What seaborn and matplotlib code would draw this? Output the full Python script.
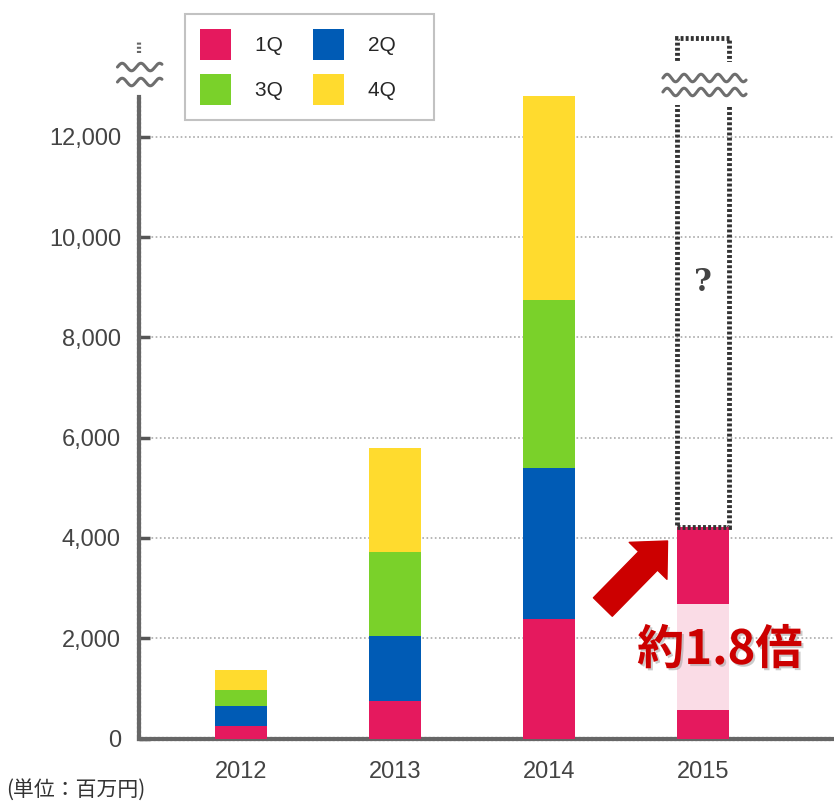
import numpy as np
import pandas as pd
import matplotlib.pyplot as plt
import matplotlib.patheffects as pe
from matplotlib.patches import Patch
import seaborn as sns

# values (unit: million yen)
years = ["2012", "2013", "2014", "2015"]
q1 = [240, 754, 2384, 4225]
q2 = [400, 1291, 3006, 0]
q3 = [320, 1669, 3357, 0]
q4 = [398, 2075, 4070, 0]
q1_2015_parts = [569, 2114, 1542]   # dark / light / dark segments of the 2015 bar
yticks = [0, 2000, 4000, 6000, 8000, 10000, 12000]
quarter_labels = ["1Q", "2Q", "3Q", "4Q"]

PINK = "#e5195e"
LIGHT_PINK = "#fadce6"
BLUE = "#005bb5"
GREEN = "#7ad12a"
YELLOW = "#ffdb2e"
RED = "#cc0000"
DOT = (0, (0.5, 0.5))

sns.set_theme(style="white")
plt.rcParams["font.family"] = ["Liberation Sans", "Noto Sans CJK JP", "DejaVu Sans"]

fig = plt.figure(figsize=(8.34, 8.01), dpi=100)
ax = fig.add_axes([139 / 834, 1 - 738.5 / 801, 1 - 139 / 834, (738.5 - 38) / 801])

df = pd.DataFrame({"year": years, "q1": q1, "q2": q2, "q3": q3, "q4": q4})
df["c1"] = df["q1"]
df["c2"] = df["c1"] + df["q2"]
df["c3"] = df["c2"] + df["q3"]
df["c4"] = df["c3"] + df["q4"]

# stacked bars: draw cumulative totals, tallest first
for col, color in [("c4", YELLOW), ("c3", GREEN), ("c2", BLUE), ("c1", PINK)]:
    sns.barplot(data=df, x="year", y=col, order=years, color=color,
                saturation=1, width=0.34, linewidth=0, ax=ax, zorder=3)

# 2015 1Q split into segments
sns.barplot(x=["2015"], y=[q1_2015_parts[0] + q1_2015_parts[1]], order=years,
            color=LIGHT_PINK, saturation=1, width=0.34, linewidth=0, ax=ax, zorder=3)
sns.barplot(x=["2015"], y=[q1_2015_parts[0]], order=years,
            color=PINK, saturation=1, width=0.34, linewidth=0, ax=ax, zorder=3)

top = 13974
ax.set_ylim(0, top)
ax.set_xlim(-0.662, 3.851)
ax.set_xlabel("")
ax.set_ylabel("")

# dashed "?" box above 2015
ax.bar(3, top - sum(q1_2015_parts), bottom=sum(q1_2015_parts), width=0.34,
       fill=False, edgecolor="#333333", linewidth=3.5, linestyle=(0, (0.6, 0.45)),
       clip_on=False, zorder=4)
ax.text(3, 9106, "?", ha="center", va="center", fontsize=22, fontweight="bold",
        color="#444444", family="DejaVu Serif", zorder=5)


def wave(x0, x1, yc, wl, amp, n=300):
    x = np.linspace(x0, x1, n)
    return x, yc + amp * np.sin(2 * np.pi * (x - x0) / wl)


# break in the 2015 box
ax.bar(3, 12637 - 13495, bottom=13495, width=0.5, color="white", linewidth=0,
       clip_on=False, zorder=5)
for yc in [13176, 12897]:
    wx, wy = wave(2.74, 3.28, yc, 0.11, 75)
    ax.plot(wx, wy, color="#6e6e6e", lw=2.2, clip_on=False, zorder=6)

# spines
for side in ["top", "right"]:
    ax.spines[side].set_visible(False)
for side in ["left", "bottom"]:
    ax.spines[side].set_color("#666666")
    ax.spines[side].set_linewidth(3)
    ax.spines[side].set_linestyle(DOT)
ax.spines["left"].set_bounds(0, 12797)

# y-axis break
ytrans = ax.get_yaxis_transform()
ax.plot([0, 0], [13675, 13895], transform=ytrans, color="#666666", lw=3,
        linestyle=DOT, clip_on=False)
for yc in [13395, 13096]:
    wx, wy = wave(-0.031, 0.033, yc, 0.027, 75)
    ax.plot(wx, wy, transform=ytrans, color="#6e6e6e", lw=2.2, clip_on=False)

ax.set_yticks(yticks)
ax.set_yticklabels([f"{v:,}" for v in yticks])
ax.yaxis.grid(True, color="#aaaaaa", linestyle=(0, (1, 1.5)), linewidth=1.2)
ax.set_axisbelow(True)
ax.tick_params(axis="y", direction="in", length=8, width=2.5, color="#555555",
               pad=13, labelsize=17, labelcolor="#444444", left=True)
ax.tick_params(axis="x", length=0, pad=16, labelsize=17, labelcolor="#444444")

# arrow and annotation
ax.annotate("", xy=(2.77, 3940), xytext=(2.35, 2623),
            arrowprops=dict(arrowstyle="simple,head_width=38,head_length=20,tail_width=19",
                            mutation_scale=1, color=RED, shrinkA=0, shrinkB=0),
            zorder=6)
ax.text(3.11, 1765, "約1.8倍", ha="center", va="center", fontsize=34,
        fontweight="bold", color=RED, family=["Noto Sans CJK JP", "DejaVu Sans"],
        zorder=7,
        path_effects=[pe.withSimplePatchShadow(offset=(1.5, -1.5), shadow_rgbFace="#999999", alpha=0.5)])

# legend: filled row-wise (1Q 2Q / 3Q 4Q)
colors = {"1Q": PINK, "2Q": BLUE, "3Q": GREEN, "4Q": YELLOW}
order = ["1Q", "3Q", "2Q", "4Q"]
handles = [Patch(facecolor=colors[k], edgecolor="none") for k in order]
labels = [k + "    " for k in order]
leg = fig.legend(handles, labels, ncol=2, loc="upper left",
                 bbox_to_anchor=(185 / 834, 1 - 14 / 801), bbox_transform=fig.transFigure,
                 fontsize=15, handlelength=1.49, handleheight=1.915, handletextpad=1.15,
                 columnspacing=0.35, labelspacing=0.67, borderpad=0.72,
                 borderaxespad=0, frameon=True, fancybox=False)
leg.get_frame().set_edgecolor("#b3b3b3")
leg.get_frame().set_linewidth(1.5)

fig.text(6 / 834, 1 - 790 / 801, "(単位：百万円)", ha="left", va="center",
         fontsize=15, color="#333333", family=["Noto Sans CJK JP", "DejaVu Sans"])

fig.savefig("out.png", dpi=100)
